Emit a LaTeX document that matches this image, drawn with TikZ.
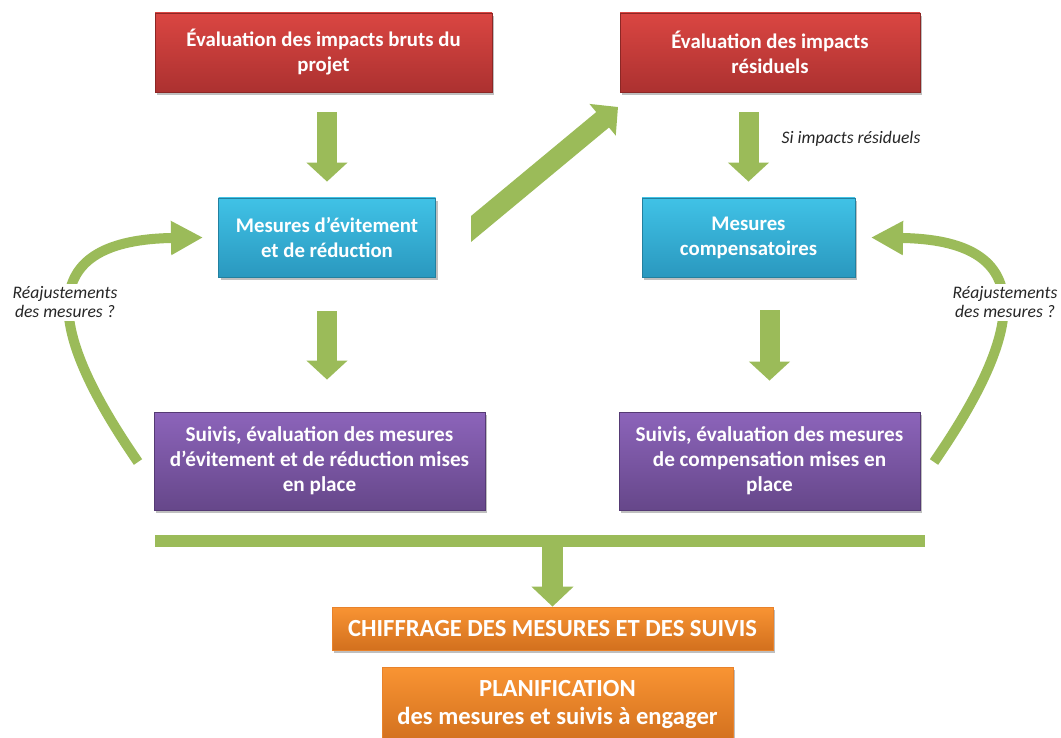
\documentclass[tikz,border=0pt]{standalone}
\usepackage{fontspec}
\setmainfont{Carlito}
\usetikzlibrary{arrows.meta,shadows,calc}
\definecolor{gr}{HTML}{9BBB59}
\definecolor{redT}{HTML}{DA4642}
\definecolor{redB}{HTML}{AC3130}
\definecolor{redD}{HTML}{8C2725}
\definecolor{bluT}{HTML}{40C2E6}
\definecolor{bluB}{HTML}{2A98BF}
\definecolor{bluD}{HTML}{23809F}
\definecolor{purT}{HTML}{8C64BA}
\definecolor{purB}{HTML}{66478A}
\definecolor{purD}{HTML}{553A74}
\definecolor{orT}{HTML}{F99433}
\definecolor{orB}{HTML}{D2701E}
\definecolor{orD}{HTML}{E8822B}
\tikzset{
  box/.style n args={3}{rectangle, top color=#1, bottom color=#2, draw=#3, line width=0.8pt,
    text=white, align=center, inner sep=0pt,
    font=\bfseries\fontsize{20.8}{25}\selectfont,
    drop shadow={shadow xshift=2pt, shadow yshift=-3pt, opacity=0.25, fill=black}},
  redbox/.style={box={redT}{redB}{redD}},
  bluebox/.style={box={bluT}{bluB}{bluD}},
  purplebox/.style={box={purT}{purB}{purD}, font=\bfseries\fontsize{21.2}{25}\selectfont},
  orangebox/.style={box={orT}{orB}{orD}, font=\bfseries\fontsize{24.6}{28}\selectfont},
  garrow/.style={draw=gr, line width=20pt, -{Triangle[width=40pt,length=19pt]}},
  curvearrow/.style={draw=gr, line width=10pt, -{Triangle[width=32pt,length=32pt]}},
  note/.style={font=\itshape\fontsize{17.6}{19}\selectfont, align=center, text=black!85, fill=white, inner sep=3pt},
}
\begin{document}
\begin{tikzpicture}[x=1pt,y=-1pt]
\useasboundingbox[fill=white] (0,0) rectangle (1061,738);
% boxes
\node[redbox, minimum width=337pt, minimum height=79pt] (r1) at (323.5,52.5) {Évaluation des impacts bruts du\\projet};
\node[redbox, minimum width=300pt, minimum height=79pt] (r2) at (770,52.5) {Évaluation des impacts\\résiduels};
\node[bluebox, minimum width=217pt, minimum height=79pt] (b1) at (327,237.5) {Mesures d’évitement\\et de réduction};
\node[bluebox, minimum width=213pt, minimum height=79pt] (b2) at (748.5,237.5) {Mesures\\compensatoires};
\node[purplebox, minimum width=331pt, minimum height=98pt] (p1) at (319.5,461) {Suivis, évaluation des mesures\\d’évitement et de réduction mises\\en place};
\node[purplebox, minimum width=301pt, minimum height=98pt] (p2) at (769.5,461) {Suivis, évaluation des mesures\\de compensation mises en\\place};
\node[orangebox, minimum width=441pt, minimum height=43pt] (o1) at (552.5,628.5) {CHIFFRAGE DES MESURES ET DES SUIVIS};
\node[orangebox, minimum width=351pt, minimum height=75pt] (o2) at (557.5,704.5) {PLANIFICATION\\des mesures et suivis à engager};
% straight arrows
\draw[garrow, shorten <=20pt, shorten >=16pt] (b1.north |- r1.south) -- (b1.north);
\draw[garrow, shorten <=20pt, shorten >=16pt] (b2.north |- r2.south) -- (b2.north);
\draw[garrow, shorten <=34pt, shorten >=32pt] (b1.south) -- (b1.south |- p1.north);
\draw[garrow, shorten <=33pt, shorten >=31pt] (p2.north |- b2.south) -- (p2.north);
% diagonal arrow
\coordinate (dtail) at (471,229);
\coordinate (dtip) at (618,107);
\begin{scope}
\clip (471,0) rectangle (1061,738);
\draw[garrow, -{Triangle[width=40pt,length=20pt]}] ($(dtail)!-8pt!(dtip)$) -- (dtip);
\end{scope}
% bottom bar
\coordinate (barL) at (155,541);
\coordinate (barR) at (925,541);
\draw[draw=gr, line width=12pt] (barL) -- (barR);
\draw[draw=gr, line width=21pt, -{Triangle[width=41pt,length=20pt]}] (barL -| o1.north) -- (o1.north);
% curved arrows
\coordinate (lstart) at (138,462);
\coordinate (rstart) at (934,462);
\draw[curvearrow] (lstart) .. controls (40,320) and (40,240) .. (b1.west -| 203,0);
\draw[curvearrow] (rstart) .. controls (1032,320) and (1032,240) .. (b2.east -| 871,0);
% labels
\node[note] (lbl) at (65,302.5) {Réajustements\\des mesures ?};
\node[note] (rbl) at (1005,302.5) {Réajustements\\des mesures ?};
\node[note, fill=none] (si) at (851,139) {Si impacts résiduels};
\end{tikzpicture}
\end{document}
